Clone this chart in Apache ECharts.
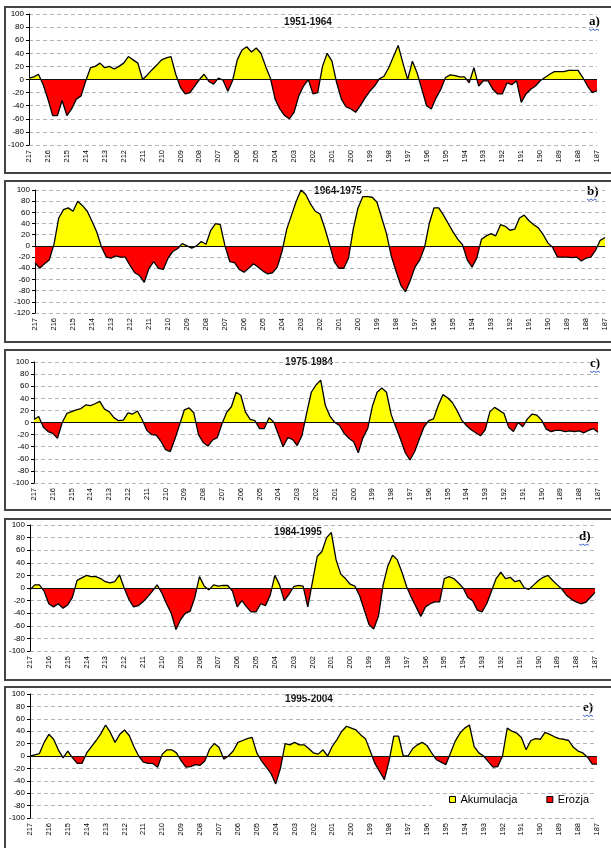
<!DOCTYPE html>
<html>
<head>
<meta charset="utf-8">
<title>Akumulacja i erozja</title>
<script src="https://cdn.jsdelivr.net/npm/echarts@6.0.0/dist/echarts.min.js"></script>
<style>
    html, body { margin: 0; padding: 0; background: #fff; }
    #chart { width: 611px; height: 848px; }
</style>
</head>
<body>
<div id="chart"></div>
<script>
(function () {
    'use strict';

    // river km stations, read every 0.25 km from 217 down to 187
    var kmFrom = 217, kmTo = 187, kmStep = 0.25;
    var stations = [];
    for (var k = kmFrom; k >= kmTo; k -= kmStep) {
        stations.push(k);
    }

    var periods = ['1951-1964', '1964-1975', '1975-1984', '1984-1995', '1995-2004'];
    var panelTags = ['a)', 'b)', 'c)', 'd)', 'e)'];
    var legendNames = ['Akumulacja', 'Erozja'];
    var yMin = [-100, -120, -100, -100, -100];
    var yMax = [100, 100, 100, 100, 100];

    // one line = one km (x.00, x-0.25, x-0.50, x-0.75)
    var valuesA = [
        2, 4, 8, -8,          // 217
        -30, -55, -55, -32,   // 216
        -55, -45, -30, -25,   // 215
        -2, 18, 20, 25,       // 214
        18, 20, 16, 20,       // 213
        25, 35, 30, 25,       // 212
        0, 7, 15, 22,         // 211
        30, 33, 35, 8,        // 210
        -12, -22, -20, -10,   // 209
        0, 8, -3, -7,         // 208
        2, -1, -18, -2,       // 207
        30, 45, 50, 42,       // 206
        48, 40, 20, 2,        // 205
        -30, -45, -55, -60,   // 204
        -50, -25, -10, 0,     // 203
        -22, -20, 20, 40,     // 202
        28, -5, -30, -42,     // 201
        -45, -50, -40, -28,   // 200
        -18, -10, 1, 5,       // 199
        18, 35, 52, 25,       // 198
        0, 28, 10, -15,       // 197
        -40, -45, -28, -15,   // 196
        3, 7, 6, 4,           // 195
        4, -5, 18, -10,       // 194
        -2, -2, -15, -22,     // 193
        -22, -5, -8, -2,      // 192
        -35, -22, -15, -10,   // 191
        -2, 3, 8, 12,         // 190
        12, 12, 14, 14,       // 189
        14, 3, -10, -20,      // 188
        -17                   // 187
    ];

    var valuesB = [
        -30, -40, -32, -25,   // 217
        3, 50, 65, 68,        // 216
        62, 80, 72, 62,       // 215
        44, 25, -2, -20,      // 214
        -22, -18, -20, -20,   // 213
        -35, -48, -53, -65,   // 212
        -40, -28, -40, -42,   // 211
        -22, -10, -5, 4,      // 210
        0, -4, 0, 8,          // 209
        3, 28, 40, 38,        // 208
        0, -28, -30, -42,     // 207
        -47, -40, -32, -38,   // 206
        -45, -50, -48, -38,   // 205
        -10, 30, 55, 80,      // 204
        100, 92, 75, 62,      // 203
        57, 32, 3, -28,       // 202
        -40, -40, -22, 30,    // 201
        68, 88, 88, 87,       // 200
        78, 50, 22, -18,      // 199
        -45, -70, -82, -62,   // 198
        -38, -25, -3, 40,     // 197
        68, 68, 55, 40,       // 196
        25, 12, 2, -25,       // 195
        -38, -22, 12, 18,     // 194
        22, 18, 38, 35,       // 193
        28, 30, 50, 55,       // 192
        45, 38, 32, 20,       // 191
        5, -3, -20, -20,      // 190
        -20, -21, -20, -27,   // 189
        -22, -20, -8, 10,     // 188
        15                    // 187
    ];

    var valuesC = [
        5, 10, -8, -15,       // 217
        -18, -26, 0, 15,      // 216
        18, 21, 23, 29,       // 215
        28, 31, 35, 22,       // 214
        18, 8, 3, 4,          // 213
        16, 14, 19, 5,        // 212
        -13, -20, -21, -31,   // 211
        -45, -48, -27, -3,    // 210
        21, 24, 16, -20,      // 209
        -33, -39, -29, -25,   // 208
        -2, 17, 26, 50,       // 207
        45, 17, 5, 3,         // 206
        -10, -10, 8, 1,       // 205
        -20, -40, -25, -28,   // 204
        -38, -22, 15, 50,     // 203
        62, 70, 28, 10,       // 202
        0, -5, -18, -26,      // 201
        -32, -50, -25, -10,   // 200
        27, 50, 57, 50,       // 199
        13, -8, -28, -50,     // 198
        -62, -48, -27, -7,    // 197
        3, 6, 28, 46,         // 196
        41, 33, 20, 4,        // 195
        -5, -12, -17, -22,    // 194
        -12, 18, 25, 20,      // 193
        15, -8, -15, 0,       // 192
        -7, 6, 14, 12,        // 191
        4, -11, -15, -13,     // 190
        -13, -15, -14, -15,   // 189
        -14, -17, -13, -10,   // 188
        -16                   // 187
    ];

    var valuesD = [
        -3, 5, 5, -5,         // 217
        -25, -30, -25, -32,   // 216
        -27, -15, 12, 16,     // 215
        20, 18, 18, 15,       // 214
        10, 8, 10, 21,        // 213
        0, -18, -30, -28,     // 212
        -22, -14, -5, 5,      // 211
        -8, -25, -40, -66,    // 210
        -50, -40, -37, -15,   // 209
        18, 3, -3, 5,         // 208
        3, 4, 4, -5,          // 207
        -30, -20, -30, -38,   // 206
        -38, -25, -28, -12,   // 205
        20, 5, -20, -10,      // 204
        2, 4, 3, -30,         // 203
        10, 50, 58, 80,       // 202
        88, 45, 22, 15,       // 201
        6, 3, -12, -35,       // 200
        -58, -65, -45, 5,     // 199
        35, 52, 45, 25,       // 198
        2, -15, -30, -45,     // 197
        -30, -25, -22, -22,   // 196
        15, 18, 15, 8,        // 195
        0, -15, -20, -35,     // 194
        -38, -25, -5, 15,     // 193
        25, 15, 17, 10,       // 192
        12, 0, -2, 5,         // 191
        12, 17, 20, 12,       // 190
        5, -2, -12, -18,      // 189
        -22, -25, -23, -15,   // 188
        -7                    // 187
    ];

    var valuesE = [
        0, 2, 4, 22,          // 217
        35, 27, 10, -3,       // 216
        8, -3, -12, -12,      // 215
        5, 15, 25, 36,        // 214
        50, 38, 22, 35,       // 213
        42, 33, 15, 0,        // 212
        -10, -12, -12, -18,   // 211
        3, 10, 10, 5,         // 210
        -8, -18, -17, -14,    // 209
        -15, -8, 11, 20,      // 208
        14, -5, 0, 8,         // 207
        22, 25, 28, 30,       // 206
        5, -8, -18, -28,      // 205
        -45, -20, 20, 18,     // 204
        22, 18, 18, 12,       // 203
        5, 3, 10, 0,          // 202
        16, 27, 40, 48,       // 201
        45, 42, 34, 28,       // 200
        8, -12, -25, -38,     // 199
        -8, 32, 32, 0,        // 198
        0, 12, 18, 22,        // 197
        17, 5, -6, -10,       // 196
        -14, 5, 24, 37,       // 195
        45, 50, 15, 5,        // 194
        0, -9, -18, -17,      // 193
        0, 45, 40, 37,        // 192
        30, 10, 25, 28,       // 191
        27, 38, 35, 31,       // 190
        28, 27, 25, 14,       // 189
        8, 5, -2, -13,        // 188
        -13                   // 187
    ];

    var panelValues = [valuesA, valuesB, valuesC, valuesD, valuesE];

    // layout of the five stacked panels (pixels)
    var plots = [
        {left: 29, right: 14, top: 14, height: 131},
        {left: 35, right: 6, top: 190, height: 123},
        {left: 34, right: 13, top: 362, height: 121},
        {left: 30, right: 16, top: 525, height: 126},
        {left: 30, right: 14, top: 694, height: 124}
    ];
    var frames = [[5, 7, 607, 166], [5, 181, 607, 161], [5, 350, 607, 160], [5, 519, 607, 161], [5, 687, 607, 170]];
    var titlePos = [[308, 22], [338, 191], [309, 362], [298, 532], [309, 699]];
    var tagPos = [[589, 22], [587, 192], [590, 364], [579, 537], [583, 708]];

    var font = '"Liberation Sans", Arial, sans-serif';

    var grids = [], xAxes = [], yAxes = [], series = [], graphics = [];

    plots.forEach(function (p, i) {
        grids.push({left: p.left, right: p.right, top: p.top, height: p.height, outerBoundsMode: 'none'});

        xAxes.push({
            type: 'value',
            gridIndex: i,
            min: kmTo,
            max: kmFrom,
            interval: 1,
            inverse: true,
            axisLine: {show: false},
            axisTick: {show: false},
            splitLine: {show: false},
            axisLabel: {rotate: 90, fontSize: 7.5, margin: 5, color: '#000', fontFamily: font}
        });

        yAxes.push({
            type: 'value',
            gridIndex: i,
            min: yMin[i],
            max: yMax[i],
            interval: 20,
            axisLine: {show: true, onZero: false, lineStyle: {color: '#000', width: 1}},
            axisTick: {show: true, length: 3, lineStyle: {color: '#000'}},
            axisLabel: {fontSize: 8, margin: 5, color: '#000', fontFamily: font},
            splitLine: {show: true, lineStyle: {color: '#b4b4b4', type: [4, 3], width: 1}}
        });

        series.push({
            type: 'line',
            name: periods[i],
            xAxisIndex: i,
            yAxisIndex: i,
            data: stations.map(function (km, j) { return [km, panelValues[i][j]]; }),
            symbol: 'none',
            showSymbol: false,
            lineStyle: {color: '#000', width: 1.3},
            areaStyle: {opacity: 1},
            markLine: {
                silent: true,
                symbol: 'none',
                label: {show: false},
                lineStyle: {color: '#111', width: 1.2, type: 'solid'},
                data: [{yAxis: 0}]
            }
        });

        var f = frames[i];
        graphics.push({
            type: 'rect',
            silent: true,
            shape: {x: f[0], y: f[1], width: f[2], height: f[3]},
            style: {fill: 'none', stroke: '#444', lineWidth: 2}
        });
        graphics.push({
            type: 'text',
            silent: true,
            x: titlePos[i][0],
            y: titlePos[i][1],
            style: {text: periods[i], font: 'bold 10px ' + font, fill: '#111', align: 'center', verticalAlign: 'middle'}
        });
        graphics.push({
            type: 'text',
            silent: true,
            x: tagPos[i][0],
            y: tagPos[i][1],
            style: {text: panelTags[i], font: 'bold 13px "Liberation Serif", "Times New Roman", serif', fill: '#000', align: 'left', verticalAlign: 'middle'}
        });
        // the little blue spell-check wave under each tag
        var tx = tagPos[i][0], ty = tagPos[i][1] + 7;
        graphics.push({
            type: 'polyline',
            silent: true,
            shape: {points: [[tx, ty], [tx + 2, ty + 1.5], [tx + 4, ty], [tx + 6, ty + 1.5], [tx + 8, ty], [tx + 10, ty + 1.5]]},
            style: {fill: 'none', stroke: '#4466cc', lineWidth: 1}
        });
    });

    // empty series, only to feed the legend in panel e
    series.push({name: legendNames[0], type: 'bar', xAxisIndex: 4, yAxisIndex: 4, data: [], itemStyle: {color: '#ffff00'}});
    series.push({name: legendNames[1], type: 'bar', xAxisIndex: 4, yAxisIndex: 4, data: [], itemStyle: {color: '#ff0000'}});

    var chart = echarts.init(document.getElementById('chart'));

    chart.setOption({
        animation: false,
        backgroundColor: '#fff',
        grid: grids,
        xAxis: xAxes,
        yAxis: yAxes,
        series: series,
        visualMap: {
            show: false,
            type: 'piecewise',
            seriesIndex: [0, 1, 2, 3, 4],
            dimension: 1,
            pieces: [
                {min: -200, max: 0, color: '#ff0000'},
                {min: 0, max: 200, color: '#ffff00'}
            ],
            outOfRange: {color: '#ffffff'}
        },
        legend: {
            data: legendNames,
            left: 432,
            top: 794,
            selectedMode: false,
            backgroundColor: '#fff',
            padding: [0, 18, 6, 17],
            icon: 'rect',
            itemWidth: 6,
            itemHeight: 6,
            itemGap: 29,
            itemStyle: {borderColor: '#000', borderWidth: 1},
            textStyle: {fontSize: 11, color: '#000', fontFamily: font, lineHeight: 10}
        },
        graphic: {elements: graphics}
    });
})();
</script>
</body>
</html>
